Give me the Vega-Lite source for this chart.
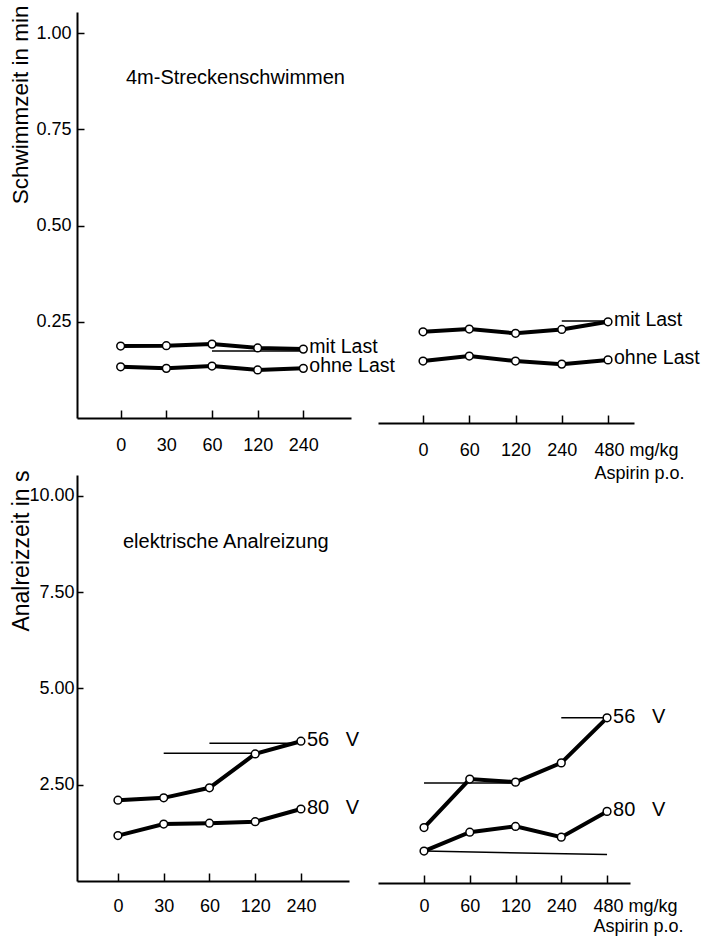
{
  "$schema": "https://vega.github.io/schema/vega-lite/v6.json",
  "autosize": {"type": "pad"},
  "padding": {"left": 8, "top": 5, "right": 5, "bottom": 2},
  "background": "white",
  "columns": 2,
  "bounds": "flush",
  "spacing": {"row": 52, "column": 27},
  "datasets": {
    "swimA": [
      {"dose": 0, "series": "mit Last", "value": 0.187},
      {"dose": 30, "series": "mit Last", "value": 0.188},
      {"dose": 60, "series": "mit Last", "value": 0.192},
      {"dose": 120, "series": "mit Last", "value": 0.182},
      {"dose": 240, "series": "mit Last", "value": 0.179},
      {"dose": 0, "series": "ohne Last", "value": 0.133},
      {"dose": 30, "series": "ohne Last", "value": 0.129},
      {"dose": 60, "series": "ohne Last", "value": 0.135},
      {"dose": 120, "series": "ohne Last", "value": 0.125},
      {"dose": 240, "series": "ohne Last", "value": 0.129}
    ],
    "swimB": [
      {"dose": 0, "series": "mit Last", "value": 0.237},
      {"dose": 60, "series": "mit Last", "value": 0.244},
      {"dose": 120, "series": "mit Last", "value": 0.233},
      {"dose": 240, "series": "mit Last", "value": 0.243},
      {"dose": 480, "series": "mit Last", "value": 0.263},
      {"dose": 0, "series": "ohne Last", "value": 0.161},
      {"dose": 60, "series": "ohne Last", "value": 0.174},
      {"dose": 120, "series": "ohne Last", "value": 0.161},
      {"dose": 240, "series": "ohne Last", "value": 0.153},
      {"dose": 480, "series": "ohne Last", "value": 0.164}
    ],
    "swimArefs": [{"from": 60, "to": 240, "value": 0.174, "value2": 0.174}],
    "swimBrefs": [{"from": 240, "to": 480, "value": 0.265, "value2": 0.265}],
    "analA": [
      {"dose": 0, "series": "56\u00a0\u00a0\u00a0V", "value": 2.10},
      {"dose": 30, "series": "56\u00a0\u00a0\u00a0V", "value": 2.16},
      {"dose": 60, "series": "56\u00a0\u00a0\u00a0V", "value": 2.42},
      {"dose": 120, "series": "56\u00a0\u00a0\u00a0V", "value": 3.30},
      {"dose": 240, "series": "56\u00a0\u00a0\u00a0V", "value": 3.63},
      {"dose": 0, "series": "80\u00a0\u00a0\u00a0V", "value": 1.18},
      {"dose": 30, "series": "80\u00a0\u00a0\u00a0V", "value": 1.48},
      {"dose": 60, "series": "80\u00a0\u00a0\u00a0V", "value": 1.50},
      {"dose": 120, "series": "80\u00a0\u00a0\u00a0V", "value": 1.54},
      {"dose": 240, "series": "80\u00a0\u00a0\u00a0V", "value": 1.87}
    ],
    "analB": [
      {"dose": 0, "series": "56\u00a0\u00a0\u00a0V", "value": 1.44},
      {"dose": 60, "series": "56\u00a0\u00a0\u00a0V", "value": 2.70},
      {"dose": 120, "series": "56\u00a0\u00a0\u00a0V", "value": 2.62},
      {"dose": 240, "series": "56\u00a0\u00a0\u00a0V", "value": 3.12},
      {"dose": 480, "series": "56\u00a0\u00a0\u00a0V", "value": 4.29},
      {"dose": 0, "series": "80\u00a0\u00a0\u00a0V", "value": 0.83},
      {"dose": 60, "series": "80\u00a0\u00a0\u00a0V", "value": 1.32},
      {"dose": 120, "series": "80\u00a0\u00a0\u00a0V", "value": 1.47},
      {"dose": 240, "series": "80\u00a0\u00a0\u00a0V", "value": 1.19},
      {"dose": 480, "series": "80\u00a0\u00a0\u00a0V", "value": 1.86}
    ],
    "analArefs": [
      {"from": 30, "to": 120, "value": 3.32, "value2": 3.32},
      {"from": 60, "to": 240, "value": 3.58, "value2": 3.58}
    ],
    "analBrefs": [
      {"from": 0, "to": 120, "value": 2.60, "value2": 2.60},
      {"from": 240, "to": 480, "value": 4.29, "value2": 4.29},
      {"from": 0, "to": 480, "value": 0.83, "value2": 0.74}
    ]
  },
  "config": {
    "view": {"stroke": null},
    "font": "Liberation Sans",
    "axis": {
      "domainColor": "black", "domainWidth": 2, "tickColor": "black", "tickWidth": 1.5,
      "labelColor": "black", "titleColor": "black", "grid": false,
      "labelFont": "Liberation Sans",
      "labelFontSize": 18, "titleFont": "Liberation Sans", "titleFontSize": 22, "titleFontWeight": "normal"
    }
  },
  "concat": [
    {
      "width": 274, "height": 406,
      "title": {"text": "4m-Streckenschwimmen", "anchor": "start", "frame": "group", "baseline": "middle", "offset": 0, "dx": 49, "dy": 93, "fontSize": 20, "fontWeight": "normal", "font": "Liberation Sans", "color": "black"},
      "data": {"name": "swimA"},
      "layer": [
        {
          "data": {"name": "swimArefs"},
          "mark": {"type": "rule", "color": "black", "strokeWidth": 1.5},
          "encoding": {
            "x": {"field": "from", "type": "ordinal", "scale": {"type": "point", "domain": [0, 30, 60, 120, 240], "padding": 1.01, "align": 0.478}, "axis": {"title": null, "labelAngle": 0, "tickSize": -8, "labelPadding": 40, "labelBaseline": "alphabetic", "labelOverlap": false}},
            "x2": {"field": "to"},
            "y": {"field": "value", "type": "quantitative", "scale": {"domain": [0, 1.055], "nice": false, "zero": true}, "axis": {"values": [0.25, 0.5, 0.75, 1], "format": ".2f", "title": "Schwimmzeit in min", "titleFontSize": 22.5, "tickSize": -7, "labelPadding": 13, "titleAnchor": "end", "titleAlign": "right", "titleAngle": -90, "titleBaseline": "alphabetic", "titleX": -50, "titleY": -7}},
            "y2": {"field": "value2"}
          }
        },
        {
          "mark": {"type": "line", "color": "black", "strokeWidth": 4},
          "encoding": {
            "x": {"field": "dose", "type": "ordinal", "scale": {"type": "point", "domain": [0, 30, 60, 120, 240], "padding": 1.01, "align": 0.478}, "axis": {"title": null, "labelAngle": 0, "tickSize": -8, "labelPadding": 40, "labelBaseline": "alphabetic", "labelOverlap": false}},
            "y": {"field": "value", "type": "quantitative", "scale": {"domain": [0, 1.055], "nice": false, "zero": true}, "axis": {"values": [0.25, 0.5, 0.75, 1], "format": ".2f", "title": "Schwimmzeit in min", "titleFontSize": 22.5, "tickSize": -7, "labelPadding": 13, "titleAnchor": "end", "titleAlign": "right", "titleAngle": -90, "titleBaseline": "alphabetic", "titleX": -50, "titleY": -7}},
            "detail": {"field": "series"}
          }
        },
        {
          "mark": {"type": "point", "shape": "circle", "size": 60, "filled": true, "fill": "white", "stroke": "black", "strokeWidth": 1.5, "opacity": 1},
          "encoding": {
            "x": {"field": "dose", "type": "ordinal", "scale": {"type": "point", "domain": [0, 30, 60, 120, 240], "padding": 1.01, "align": 0.478}},
            "y": {"field": "value", "type": "quantitative", "scale": {"domain": [0, 1.055], "nice": false, "zero": true}}
          }
        },
        {
          "transform": [{"filter": "datum.dose == 240"}],
          "mark": {"type": "text", "align": "left", "baseline": "middle", "dx": 6, "dy": -2, "fontSize": 19.5, "font": "Liberation Sans", "color": "black"},
          "encoding": {
            "x": {"field": "dose", "type": "ordinal", "scale": {"type": "point", "domain": [0, 30, 60, 120, 240], "padding": 1.01, "align": 0.478}},
            "y": {"field": "value", "type": "quantitative", "scale": {"domain": [0, 1.055], "nice": false, "zero": true}},
            "text": {"field": "series"}
          }
        }
      ]
    },
    {
      "width": 256, "height": 411,
      "data": {"name": "swimB"},
      "layer": [
        {
          "data": {"name": "swimBrefs"},
          "mark": {"type": "rule", "color": "black", "strokeWidth": 1.5},
          "encoding": {
            "x": {"field": "from", "type": "ordinal", "scale": {"type": "point", "domain": [0, 60, 120, 240, 480], "padding": 0.768, "align": 0.634}, "axis": {"title": null, "labelAngle": 0, "tickSize": -8, "labelPadding": 40, "labelBaseline": "alphabetic", "labelOverlap": false, "labelLineHeight": 23, "labelExpr": "datum.value == 480 ? ['480 mg/kg', 'Aspirin p.o.'] : datum.label", "labelAlign": {"condition": {"test": "datum.value == 480", "value": "left"}, "value": "center"}, "labelOffset": {"condition": {"test": "datum.value == 480", "value": -14}, "value": 0}}},
            "x2": {"field": "to"},
            "y": {"field": "value", "type": "quantitative", "scale": {"domain": [0, 1.068], "nice": false, "zero": true}, "axis": null},
            "y2": {"field": "value2"}
          }
        },
        {
          "mark": {"type": "line", "color": "black", "strokeWidth": 4},
          "encoding": {
            "x": {"field": "dose", "type": "ordinal", "scale": {"type": "point", "domain": [0, 60, 120, 240, 480], "padding": 0.768, "align": 0.634}, "axis": {"title": null, "labelAngle": 0, "tickSize": -8, "labelPadding": 40, "labelBaseline": "alphabetic", "labelOverlap": false, "labelLineHeight": 23, "labelExpr": "datum.value == 480 ? ['480 mg/kg', 'Aspirin p.o.'] : datum.label", "labelAlign": {"condition": {"test": "datum.value == 480", "value": "left"}, "value": "center"}, "labelOffset": {"condition": {"test": "datum.value == 480", "value": -14}, "value": 0}}},
            "y": {"field": "value", "type": "quantitative", "scale": {"domain": [0, 1.068], "nice": false, "zero": true}, "axis": null},
            "detail": {"field": "series"}
          }
        },
        {
          "mark": {"type": "point", "shape": "circle", "size": 60, "filled": true, "fill": "white", "stroke": "black", "strokeWidth": 1.5, "opacity": 1},
          "encoding": {
            "x": {"field": "dose", "type": "ordinal", "scale": {"type": "point", "domain": [0, 60, 120, 240, 480], "padding": 0.768, "align": 0.634}},
            "y": {"field": "value", "type": "quantitative", "scale": {"domain": [0, 1.068], "nice": false, "zero": true}, "axis": null}
          }
        },
        {
          "transform": [{"filter": "datum.dose == 480"}],
          "mark": {"type": "text", "align": "left", "baseline": "middle", "dx": 6, "dy": -2, "fontSize": 19.5, "font": "Liberation Sans", "color": "black"},
          "encoding": {
            "x": {"field": "dose", "type": "ordinal", "scale": {"type": "point", "domain": [0, 60, 120, 240, 480], "padding": 0.768, "align": 0.634}},
            "y": {"field": "value", "type": "quantitative", "scale": {"domain": [0, 1.068], "nice": false, "zero": true}, "axis": null},
            "text": {"field": "series"}
          }
        }
      ]
    },
    {
      "width": 272, "height": 406,
      "title": {"text": "elektrische Analreizung", "anchor": "start", "frame": "group", "baseline": "middle", "offset": 0, "dx": 46, "dy": 92, "fontSize": 20, "fontWeight": "normal", "font": "Liberation Sans", "color": "black"},
      "data": {"name": "analA"},
      "layer": [
        {
          "data": {"name": "analArefs"},
          "mark": {"type": "rule", "color": "black", "strokeWidth": 1.5},
          "encoding": {
            "x": {"field": "from", "type": "ordinal", "scale": {"type": "point", "domain": [0, 30, 60, 120, 240], "padding": 0.973, "align": 0.46}, "axis": {"title": null, "labelAngle": 0, "tickSize": -8, "labelPadding": 38, "labelBaseline": "alphabetic", "labelOverlap": false}},
            "x2": {"field": "to"},
            "y": {"field": "value", "type": "quantitative", "scale": {"domain": [0, 10.545], "nice": false, "zero": true}, "axis": {"values": [2.5, 5, 7.5, 10], "format": ".2f", "title": "Analreizzeit in s", "titleFontSize": 23, "tickSize": -6, "labelPadding": 9, "titleAnchor": "end", "titleAlign": "right", "titleAngle": -90, "titleBaseline": "alphabetic", "titleX": -49, "titleY": -5}},
            "y2": {"field": "value2"}
          }
        },
        {
          "mark": {"type": "line", "color": "black", "strokeWidth": 4},
          "encoding": {
            "x": {"field": "dose", "type": "ordinal", "scale": {"type": "point", "domain": [0, 30, 60, 120, 240], "padding": 0.973, "align": 0.46}, "axis": {"title": null, "labelAngle": 0, "tickSize": -8, "labelPadding": 38, "labelBaseline": "alphabetic", "labelOverlap": false}},
            "y": {"field": "value", "type": "quantitative", "scale": {"domain": [0, 10.545], "nice": false, "zero": true}, "axis": {"values": [2.5, 5, 7.5, 10], "format": ".2f", "title": "Analreizzeit in s", "titleFontSize": 23, "tickSize": -6, "labelPadding": 9, "titleAnchor": "end", "titleAlign": "right", "titleAngle": -90, "titleBaseline": "alphabetic", "titleX": -49, "titleY": -5}},
            "detail": {"field": "series"}
          }
        },
        {
          "mark": {"type": "point", "shape": "circle", "size": 60, "filled": true, "fill": "white", "stroke": "black", "strokeWidth": 1.5, "opacity": 1},
          "encoding": {
            "x": {"field": "dose", "type": "ordinal", "scale": {"type": "point", "domain": [0, 30, 60, 120, 240], "padding": 0.973, "align": 0.46}},
            "y": {"field": "value", "type": "quantitative", "scale": {"domain": [0, 10.545], "nice": false, "zero": true}}
          }
        },
        {
          "transform": [{"filter": "datum.dose == 240"}],
          "mark": {"type": "text", "align": "left", "baseline": "middle", "dx": 6, "dy": -1, "fontSize": 20, "font": "Liberation Sans", "color": "black"},
          "encoding": {
            "x": {"field": "dose", "type": "ordinal", "scale": {"type": "point", "domain": [0, 30, 60, 120, 240], "padding": 0.973, "align": 0.46}},
            "y": {"field": "value", "type": "quantitative", "scale": {"domain": [0, 10.545], "nice": false, "zero": true}},
            "text": {"field": "series"}
          }
        }
      ]
    },
    {
      "width": 252, "height": 408,
      "data": {"name": "analB"},
      "layer": [
        {
          "data": {"name": "analBrefs"},
          "mark": {"type": "rule", "color": "black", "strokeWidth": 1.5},
          "encoding": {
            "x": {"field": "from", "type": "ordinal", "scale": {"type": "point", "domain": [0, 60, 120, 240, 480], "padding": 0.754, "align": 0.667}, "axis": {"title": null, "labelAngle": 0, "tickSize": -8, "labelPadding": 36, "labelBaseline": "alphabetic", "labelOverlap": false, "labelLineHeight": 20, "labelExpr": "datum.value == 480 ? ['480 mg/kg', 'Aspirin p.o.'] : datum.label", "labelAlign": {"condition": {"test": "datum.value == 480", "value": "left"}, "value": "center"}, "labelOffset": {"condition": {"test": "datum.value == 480", "value": -14}, "value": 0}}},
            "x2": {"field": "to"},
            "y": {"field": "value", "type": "quantitative", "scale": {"domain": [0, 10.597], "nice": false, "zero": true}, "axis": null},
            "y2": {"field": "value2"}
          }
        },
        {
          "mark": {"type": "line", "color": "black", "strokeWidth": 4},
          "encoding": {
            "x": {"field": "dose", "type": "ordinal", "scale": {"type": "point", "domain": [0, 60, 120, 240, 480], "padding": 0.754, "align": 0.667}, "axis": {"title": null, "labelAngle": 0, "tickSize": -8, "labelPadding": 36, "labelBaseline": "alphabetic", "labelOverlap": false, "labelLineHeight": 20, "labelExpr": "datum.value == 480 ? ['480 mg/kg', 'Aspirin p.o.'] : datum.label", "labelAlign": {"condition": {"test": "datum.value == 480", "value": "left"}, "value": "center"}, "labelOffset": {"condition": {"test": "datum.value == 480", "value": -14}, "value": 0}}},
            "y": {"field": "value", "type": "quantitative", "scale": {"domain": [0, 10.597], "nice": false, "zero": true}, "axis": null},
            "detail": {"field": "series"}
          }
        },
        {
          "mark": {"type": "point", "shape": "circle", "size": 60, "filled": true, "fill": "white", "stroke": "black", "strokeWidth": 1.5, "opacity": 1},
          "encoding": {
            "x": {"field": "dose", "type": "ordinal", "scale": {"type": "point", "domain": [0, 60, 120, 240, 480], "padding": 0.754, "align": 0.667}},
            "y": {"field": "value", "type": "quantitative", "scale": {"domain": [0, 10.597], "nice": false, "zero": true}, "axis": null}
          }
        },
        {
          "transform": [{"filter": "datum.dose == 480"}],
          "mark": {"type": "text", "align": "left", "baseline": "middle", "dx": 6, "dy": -1, "fontSize": 20, "font": "Liberation Sans", "color": "black"},
          "encoding": {
            "x": {"field": "dose", "type": "ordinal", "scale": {"type": "point", "domain": [0, 60, 120, 240, 480], "padding": 0.754, "align": 0.667}},
            "y": {"field": "value", "type": "quantitative", "scale": {"domain": [0, 10.597], "nice": false, "zero": true}, "axis": null},
            "text": {"field": "series"}
          }
        }
      ]
    }
  ]
}
